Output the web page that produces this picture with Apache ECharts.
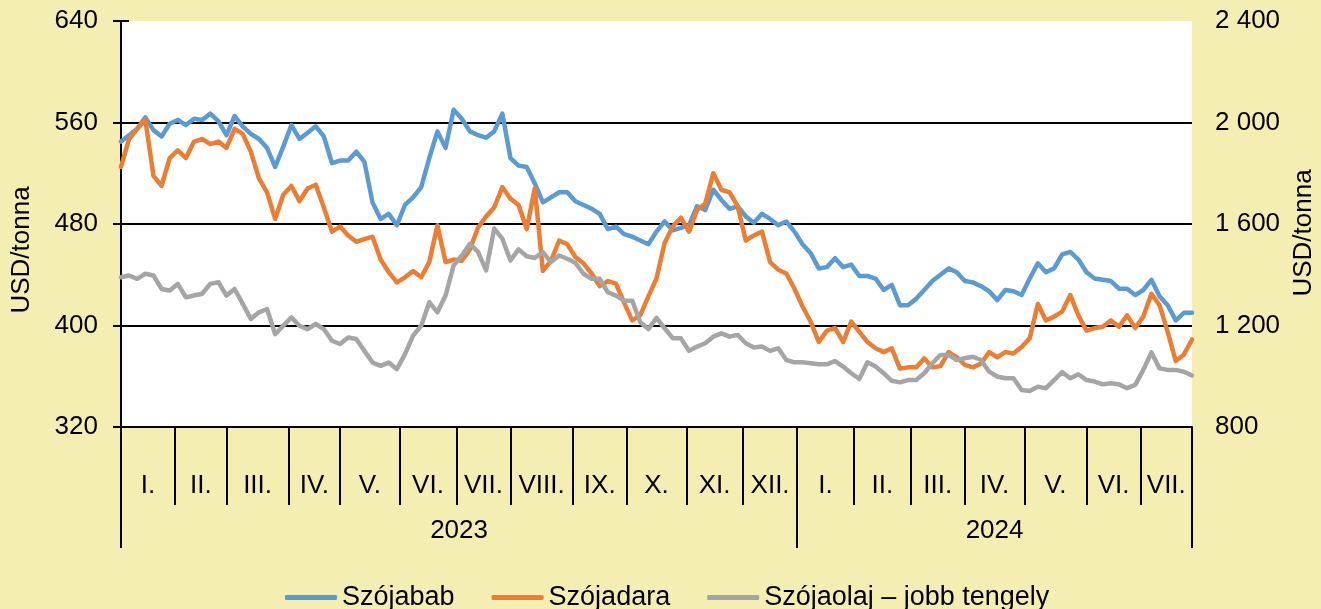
<!DOCTYPE html>
<html>
<head>
<meta charset="utf-8">
<title>Szója árak</title>
<script src="https://cdn.jsdelivr.net/npm/echarts@6/dist/echarts.min.js"></script>
<style>
    body {
        margin: 0;
        background-color: #F5EEB3;
    }
    #chart {
        width: 1321px;
        height: 609px;
    }
</style>
</head>
<body>
<div id="chart"></div>
<script>
// hónapok és a kereskedési napok száma havonta
var monthLabels = ['I.', 'II.', 'III.', 'IV.', 'V.', 'VI.', 'VII.', 'VIII.', 'IX.', 'X.', 'XI.', 'XII.',
                   'I.', 'II.', 'III.', 'IV.', 'V.', 'VI.', 'VII.'];
var monthDays = [20, 19, 23, 19, 22, 21, 20, 23, 20, 22, 21, 20,
                 21, 21, 20, 22, 23, 20, 19];
var years = ['2023', '2024'];
var yearMonthCount = [12, 7];
var step = 3; // minden harmadik kereskedési nap

// USD/tonna (bal tengely)
var szojabab = [
    545, 550, 555, 564, 554, 549, 559, 562, 558, 563,
    562, 567, 561, 550, 565, 557, 551, 547, 540, 525,
    541, 558, 547, 552, 557, 549, 528, 530, 530, 537,
    529, 497, 484, 488, 479, 495, 501, 509, 532, 553,
    540, 570, 563, 553, 550, 548, 553, 567, 532, 526,
    525, 512, 497, 501, 505, 505, 498, 495, 492, 488,
    476, 478, 472, 470, 467, 464, 474, 482, 475, 477,
    479, 494, 491, 507, 499, 492, 494, 486, 481, 488,
    484, 479, 482, 474, 464, 457, 445, 446, 453, 446,
    448, 439, 439, 437, 428, 432, 416, 416, 421, 428,
    435, 440, 445, 442, 435, 434, 431, 427, 420, 428,
    427, 424, 437, 449, 442, 445, 456, 458, 452, 442,
    437, 436, 435, 429, 429, 424, 428, 436, 423, 416,
    404, 410, 410
];
var szojadara = [
    525, 547, 555, 562, 518, 510, 532, 538, 532, 545,
    547, 543, 545, 540, 555, 551, 537, 516, 505, 484,
    503, 510, 498, 508, 511, 493, 474, 478, 471, 466,
    468, 470, 452, 442, 434, 438, 443, 438, 450, 479,
    450, 452, 451, 460, 477, 486, 493, 509, 500, 495,
    476, 508, 443, 451, 467, 464, 454, 449, 441, 431,
    435, 433, 418, 404, 408, 423, 437, 465, 478, 485,
    474, 491, 496, 520, 507, 505, 494, 467, 471, 474,
    450, 444, 441, 429, 415, 403, 387, 396, 398, 387,
    403, 395, 387, 382, 379, 382, 366, 367, 367, 374,
    367, 368, 379, 375, 369, 367, 370, 379, 375, 379,
    378, 383, 390, 417, 404, 407, 411, 424, 408, 396,
    398, 399, 404, 399, 408, 398, 407, 425, 416, 395,
    372, 377, 389
];
// USD/tonna (jobb tengely)
var szojaolaj = [
    1390, 1397, 1384, 1404, 1397, 1344, 1338, 1364, 1311, 1318,
    1325, 1364, 1371, 1318, 1344, 1285, 1226, 1252, 1265, 1166,
    1199, 1232, 1199, 1186, 1206, 1186, 1140, 1127, 1153, 1147,
    1100, 1054, 1041, 1054, 1028, 1087, 1160, 1199, 1292, 1252,
    1318, 1437, 1476, 1522, 1490, 1417, 1582, 1542, 1456, 1500,
    1473, 1466, 1489, 1450, 1476, 1463, 1447, 1404, 1384, 1384,
    1331, 1318, 1298, 1298, 1213, 1186, 1230, 1189, 1150, 1150,
    1100, 1117, 1130, 1156, 1169, 1156, 1163, 1130, 1113, 1117,
    1100, 1110, 1064, 1055, 1055, 1051, 1047, 1047, 1060, 1038,
    1012, 989, 1055, 1038, 1012, 982, 976, 985, 985, 1012,
    1051, 1084, 1084, 1064, 1071, 1077, 1064, 1018, 999, 992,
    992, 946, 942, 959, 953, 985, 1016, 992, 1008, 985,
    979, 968, 972, 968, 953, 966, 1025, 1094, 1031, 1025,
    1025, 1018, 1003
];

// hónaphatárok, hónap- és évközepek
var monthBounds = [0];
monthDays.forEach(function (n, i) { monthBounds.push(monthBounds[i] + n); });
var totalDays = monthBounds[monthBounds.length - 1];
var monthMids = monthDays.map(function (n, i) { return monthBounds[i] + n / 2; });
var yearBounds = [0];
var yearMids = [];
var mIdx = 0;
yearMonthCount.forEach(function (c) {
    var start = monthBounds[mIdx];
    mIdx += c;
    yearBounds.push(monthBounds[mIdx]);
    yearMids.push((start + monthBounds[mIdx]) / 2);
});

function toPairs(arr) {
    return arr.map(function (v, i) { return [i * step, v]; });
}
function findLabel(mids, labels, v) {
    for (var i = 0; i < mids.length; i++) {
        if (Math.abs(mids[i] - v) < 0.01) return labels[i];
    }
    return '';
}
function spaced(v) {
    return String(v).replace(/\B(?=(\d{3})+(?!\d))/g, ' ');
}

var font = "'Liberation Sans', Arial, sans-serif";
var black = '#000';
var fs = 26;

var chart = echarts.init(document.getElementById('chart'));
var option = {
    animation: false,
    backgroundColor: '#F5EEB3',
    textStyle: { fontFamily: font, color: black },
    grid: {
        left: 121, right: 129, top: 21, bottom: 182,
        containLabel: false, outerBoundsMode: 'none',
        show: true, backgroundColor: '#fff', borderWidth: 0
    },
    legend: {
        left: 280, top: 579,
        itemWidth: 52, itemHeight: 5, itemGap: 37,
        icon: 'roundRect',
        textStyle: { fontSize: 27, color: black, fontFamily: font },
        data: ['Szójabab', 'Szójadara', 'Szójaolaj – jobb tengely']
    },
    xAxis: [
        {
            type: 'value', min: 0, max: totalDays, position: 'bottom',
            axisLine: { show: true, lineStyle: { color: black, width: 2 } },
            axisTick: { show: true, customValues: monthBounds, length: 78, lineStyle: { color: black, width: 2 } },
            axisLabel: {
                customValues: monthMids, margin: 46, fontSize: fs, color: black, fontFamily: font,
                formatter: function (v) { return findLabel(monthMids, monthLabels, v); }
            },
            splitLine: { show: false }
        },
        {
            type: 'value', min: 0, max: totalDays, position: 'bottom',
            axisLine: { show: false },
            axisTick: { show: true, customValues: yearBounds, length: 121, lineStyle: { color: black, width: 2 } },
            axisLabel: {
                customValues: yearMids, margin: 91, fontSize: fs, color: black, fontFamily: font,
                formatter: function (v) { return findLabel(yearMids, years, v); }
            },
            splitLine: { show: false }
        }
    ],
    yAxis: [
        {
            type: 'value', min: 320, max: 640, interval: 80, position: 'left',
            name: 'USD/tonna', nameLocation: 'middle', nameRotate: 90, nameGap: 86,
            nameTextStyle: { fontSize: fs, color: black, fontFamily: font, padding: [0, 52, 0, 0] },
            axisLine: { show: true, lineStyle: { color: black, width: 2 } },
            axisTick: { show: true, length: 8, lineStyle: { color: black, width: 2 } },
            axisLabel: { margin: 23, fontSize: fs, color: black, fontFamily: font },
            splitLine: { show: true, showMinLine: false, showMaxLine: false, lineStyle: { color: black, width: 2 } }
        },
        {
            type: 'value', min: 800, max: 2400, interval: 400, position: 'right',
            name: 'USD/tonna', nameLocation: 'middle', nameRotate: 90, nameGap: 97,
            nameTextStyle: { fontSize: fs, color: black, fontFamily: font, padding: [0, 18, 0, 0] },
            axisLine: { show: true, lineStyle: { color: black, width: 2 } },
            axisTick: { show: true, length: 8, lineStyle: { color: black, width: 2 } },
            axisLabel: { margin: 23, fontSize: fs, color: black, fontFamily: font, formatter: spaced },
            splitLine: { show: false }
        }
    ],
    series: [
        {
            name: 'Szójabab', type: 'line', xAxisIndex: 0, yAxisIndex: 0,
            data: toPairs(szojabab), showSymbol: false, symbol: 'none',
            lineStyle: { width: 4.5, color: '#5B9BD5', cap: 'round', join: 'round' },
            itemStyle: { color: '#5B9BD5' }
        },
        {
            name: 'Szójadara', type: 'line', xAxisIndex: 0, yAxisIndex: 0,
            data: toPairs(szojadara), showSymbol: false, symbol: 'none',
            lineStyle: { width: 4.5, color: '#ED7D31', cap: 'round', join: 'round' },
            itemStyle: { color: '#ED7D31' }
        },
        {
            name: 'Szójaolaj – jobb tengely', type: 'line', xAxisIndex: 0, yAxisIndex: 1,
            data: toPairs(szojaolaj), showSymbol: false, symbol: 'none',
            lineStyle: { width: 4.5, color: '#A5A5A5', cap: 'round', join: 'round' },
            itemStyle: { color: '#A5A5A5' }
        }
    ]
};
chart.setOption(option);
</script>
</body>
</html>
